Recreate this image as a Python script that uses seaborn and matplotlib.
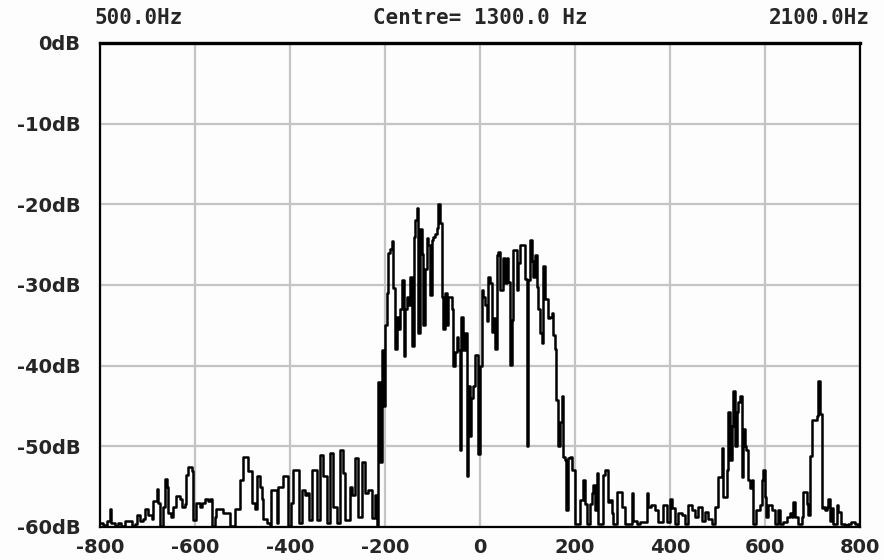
import matplotlib
matplotlib.use("Agg")
import matplotlib.pyplot as plt
import seaborn as sns

# Offset from centre frequency (Hz) and level (dB)
freq_hz = [
    -800, -793, -786, -779, -776, -769, -762, -755, -747, -740, -733, -726, -723, -716,
    -709, -705, -698, -691, -688, -681, -677, -674, -667, -663, -660, -656, -650, -646,
    -639, -632, -628, -621, -618, -614, -607, -604, -597, -590, -586, -579, -572, -568,
    -565, -558, -555, -548, -541, -534, -527, -520, -516, -509, -505,
    -498, -491, -488, -481, -474, -470, -467, -463, -460, -456, -449, -442, -439, -432,
    -428, -425, -418, -414, -411, -404, -397, -393, -386, -382, -375, -368, -364, -361,
    -354, -347, -344, -337, -330, -323, -316, -309, -302, -295, -288, -284, -274, -270,
    -263, -256, -249, -242, -235, -228, -221, -216,
    -214, -210, -207, -203, -200, -196, -193, -189, -186, -183, -179, -175, -172, -168,
    -165, -161, -158, -154, -151, -147, -144, -140, -137, -133, -130, -126, -123, -119,
    -116, -112, -109, -105, -102, -98, -95, -91, -88, -84, -81, -77, -74, -70, -67, -63,
    -60, -56, -53, -49, -46, -42, -39, -35, -32, -28, -25, -21, -18, -14, -11, -7, -4,
    0, 3.5, 7, 10.5, 14, 17.5, 21, 24.6, 28, 31.6, 35, 38.6, 42, 45.6, 49, 52.6, 56,
    59.6, 63, 66.7, 70, 73.5, 77, 80.7, 84, 87.7, 91, 94.7, 98, 101.8, 105, 108.5, 112,
    115.8, 119, 122.5, 126, 129.8, 133, 136.8, 140, 143.9, 147.5, 151, 154, 157.9, 161,
    165, 168.5, 172, 175, 179, 182, 186, 190, 194, 200, 207,
    210.5, 217.5, 221, 224.6, 231.6, 235, 238.6, 242, 245.6, 249, 256, 259.6, 263,
    266.7, 270, 273.7, 277, 280.7, 287.7, 294.7, 298, 301.7, 305, 312, 319, 322.8,
    329.8, 336.8, 343.9, 350.9, 354, 361, 368, 375, 386, 393, 400, 403.5, 410.5, 417.5,
    424.6, 431.6, 438.6, 445.6, 452.6, 459.6, 466.7, 473.7, 480.7, 487.7, 494.7, 501.7,
    505, 508.8, 512, 515.8, 519, 522.8, 526, 529.8, 533, 536.8, 540, 543.5, 547, 550.9,
    554, 557.9, 561, 565, 568, 572, 575, 582, 589, 593, 596, 600, 603, 607, 614, 621,
    628, 631.6, 638.6, 645.6, 652.6, 656, 659.6, 663, 670, 677, 680.7, 687.7, 691,
    694.7, 698, 705, 708.8, 712, 715.8, 719, 722.8, 726, 729.8, 733, 736.8, 740, 743.9,
    751, 754, 761, 768, 775, 782, 789, 796, 800,
]
level_db = [
    -59.5, -59.8, -59.3, -57.8, -59.5, -59.9, -59.5, -59.9, -59.2, -59.2, -59.9, -59.6, -58.5, -59.2,
    -59.0, -57.8, -58.5, -59.0, -56.8, -55.3, -57.0, -59.9, -57.5, -54.0, -55.0, -58.3, -58.7, -57.5,
    -56.2, -56.5, -57.5, -57.2, -53.5, -52.6, -53.0, -59.1, -57.0, -57.5, -57.0, -56.5, -56.8, -56.5,
    -59.9, -58.8, -57.8, -57.8, -58.3, -58.3, -59.9, -59.9, -57.8, -57.8, -54.2,
    -51.3, -51.3, -53.1, -57.0, -57.8, -53.7, -53.7, -55.0, -56.5, -59.0, -59.5, -59.7, -55.4, -55.4,
    -59.5, -55.0, -55.0, -53.7, -53.7, -59.9, -57.0, -52.9, -52.9, -59.5, -55.4, -56.0, -55.8, -59.1,
    -52.9, -52.9, -59.1, -51.1, -53.7, -59.5, -50.8, -57.5, -59.5, -50.4, -53.3, -59.1, -55.0, -56.0,
    -51.5, -58.7, -51.9, -55.8, -55.4, -58.9, -56.0, -59.7,
    -42.0, -52.0, -38.0, -45.0, -35.0, -31.0, -26.0, -25.5, -24.6, -30.4, -37.9, -34.0, -35.5, -33.0,
    -29.4, -38.8, -33.0, -31.5, -32.5, -29.0, -37.5, -24.0, -22.0, -20.4, -36.0, -23.0, -26.2, -35.0,
    -28.0, -24.2, -25.0, -31.2, -24.4, -24.0, -23.7, -22.9, -20.0, -22.3, -31.5, -35.4, -31.0, -35.0, -31.5, -31.5,
    -33.0, -40.0, -38.3, -36.5, -38.0, -50.4, -34.0, -38.0, -36.0, -53.7, -42.5, -48.7, -44.0, -42.5, -38.7, -38.7, -51.0,
    -40.1, -30.6, -31.5, -32.5, -34.5, -29.0, -29.8, -35.8, -34.1, -37.9, -26.3, -25.9, -30.6, -30.6, -26.7, -29.8, -26.7,
    -29.6, -39.9, -34.3, -25.7, -25.7, -30.6, -27.3, -25.0, -25.0, -25.0, -29.2, -50.0, -29.4, -24.4, -27.0, -29.0,
    -26.3, -30.2, -33.0, -36.0, -37.2, -27.7, -31.7, -31.7, -34.1, -34.0, -33.5, -36.2, -37.9, -44.3,
    -50.0, -47.0, -43.8, -51.3, -51.7, -57.9, -51.5, -51.3, -52.9, -59.6, -59.6,
    -56.7, -54.2, -57.1, -59.6, -57.1, -55.8, -54.8, -57.9, -53.3, -59.6, -59.6, -53.5, -52.9,
    -52.9, -56.9, -56.7, -58.3, -59.6, -55.6, -55.6, -57.5, -57.5, -59.6, -59.6, -55.8, -59.2,
    -59.6, -59.4, -59.4, -55.8, -57.5, -57.3, -57.9, -59.4, -57.3, -59.4, -56.5, -57.7, -59.6, -58.3,
    -58.5, -59.6, -57.3, -57.9, -58.75, -57.5, -59.2, -58.1, -59.0, -59.6, -57.5, -53.75,
    -53.75, -50.2, -56.25, -56.25, -52.9, -45.8, -51.7, -47.5, -43.1, -50.0, -45.8, -44.5, -43.75, -53.75,
    -47.9, -50.0, -50.4, -54.2, -55.2, -54.2, -59.6, -57.9, -57.3, -54.2, -52.9, -56.25, -58.75, -57.3, -57.9, -59.6,
    -57.9, -59.6, -59.4, -58.75, -58.3, -58.75, -56.9, -58.75, -59.6, -58.75, -55.6, -57.1, -58.5,
    -51.25, -46.7, -46.7, -46.25, -41.9, -46.0, -57.7, -57.5, -57.9, -57.5, -56.5, -59.2, -57.7, -59.6,
    -57.3, -58.1, -59.6, -59.8, -59.6, -59.4, -59.6, -59.8, -59.8,
]

x_ticks = [-800, -600, -400, -200, 0, 200, 400, 600, 800]
x_tick_labels = ["-800", "-600", "-400", "-200", "0", "200", "400", "600", "800"]
y_ticks = [0, -10, -20, -30, -40, -50, -60]
y_tick_labels = ["0dB", "-10dB", "-20dB", "-30dB", "-40dB", "-50dB", "-60dB"]
start_label = "500.0Hz"
centre_label = "Centre= 1300.0 Hz"
stop_label = "2100.0Hz"

sns.set_theme(style="white")
plt.rcParams["font.family"] = ["DejaVu Sans"]

fig = plt.figure(figsize=(8.84, 5.6), dpi=100)
fig.patch.set_facecolor("#fdfdfd")
ax = fig.add_axes([100 / 884, 33 / 560, 760 / 884, 484 / 560])
ax.set_facecolor("#fdfdfd")

sns.lineplot(x=freq_hz, y=level_db, drawstyle="steps-post", color="black",
             linewidth=1.8, estimator=None, ax=ax)

ax.set_xlim(-800, 800)
ax.set_ylim(-60, 0)
ax.set_xticks(x_ticks)
ax.set_xticklabels(x_tick_labels)
ax.set_yticks(y_ticks)
ax.set_yticklabels(y_tick_labels)
ax.grid(True, color="#c4c4c4", linewidth=1.6)
ax.set_axisbelow(True)
for s in ax.spines.values():
    s.set_color("black")
    s.set_linewidth(1.6)
ax.spines["top"].set_linewidth(2.4)
ax.tick_params(axis="both", length=0, labelsize=14)
ax.tick_params(axis="x", pad=8)
ax.tick_params(axis="y", pad=14)
for lbl in ax.get_xticklabels() + ax.get_yticklabels():
    lbl.set_fontweight("bold")
ax.set_xlabel("")
ax.set_ylabel("")

mono = ["DejaVu Sans Mono"]
fig.text(95 / 884, 1 - 18 / 560, start_label, ha="left", va="center",
         fontsize=15, fontweight="bold", family=mono)
fig.text(480 / 884, 1 - 18 / 560, centre_label, ha="center", va="center",
         fontsize=15, fontweight="bold", family=mono)
fig.text(870 / 884, 1 - 18 / 560, stop_label, ha="right", va="center",
         fontsize=15, fontweight="bold", family=mono)

fig.savefig("out.png", dpi=100, facecolor=fig.get_facecolor())
